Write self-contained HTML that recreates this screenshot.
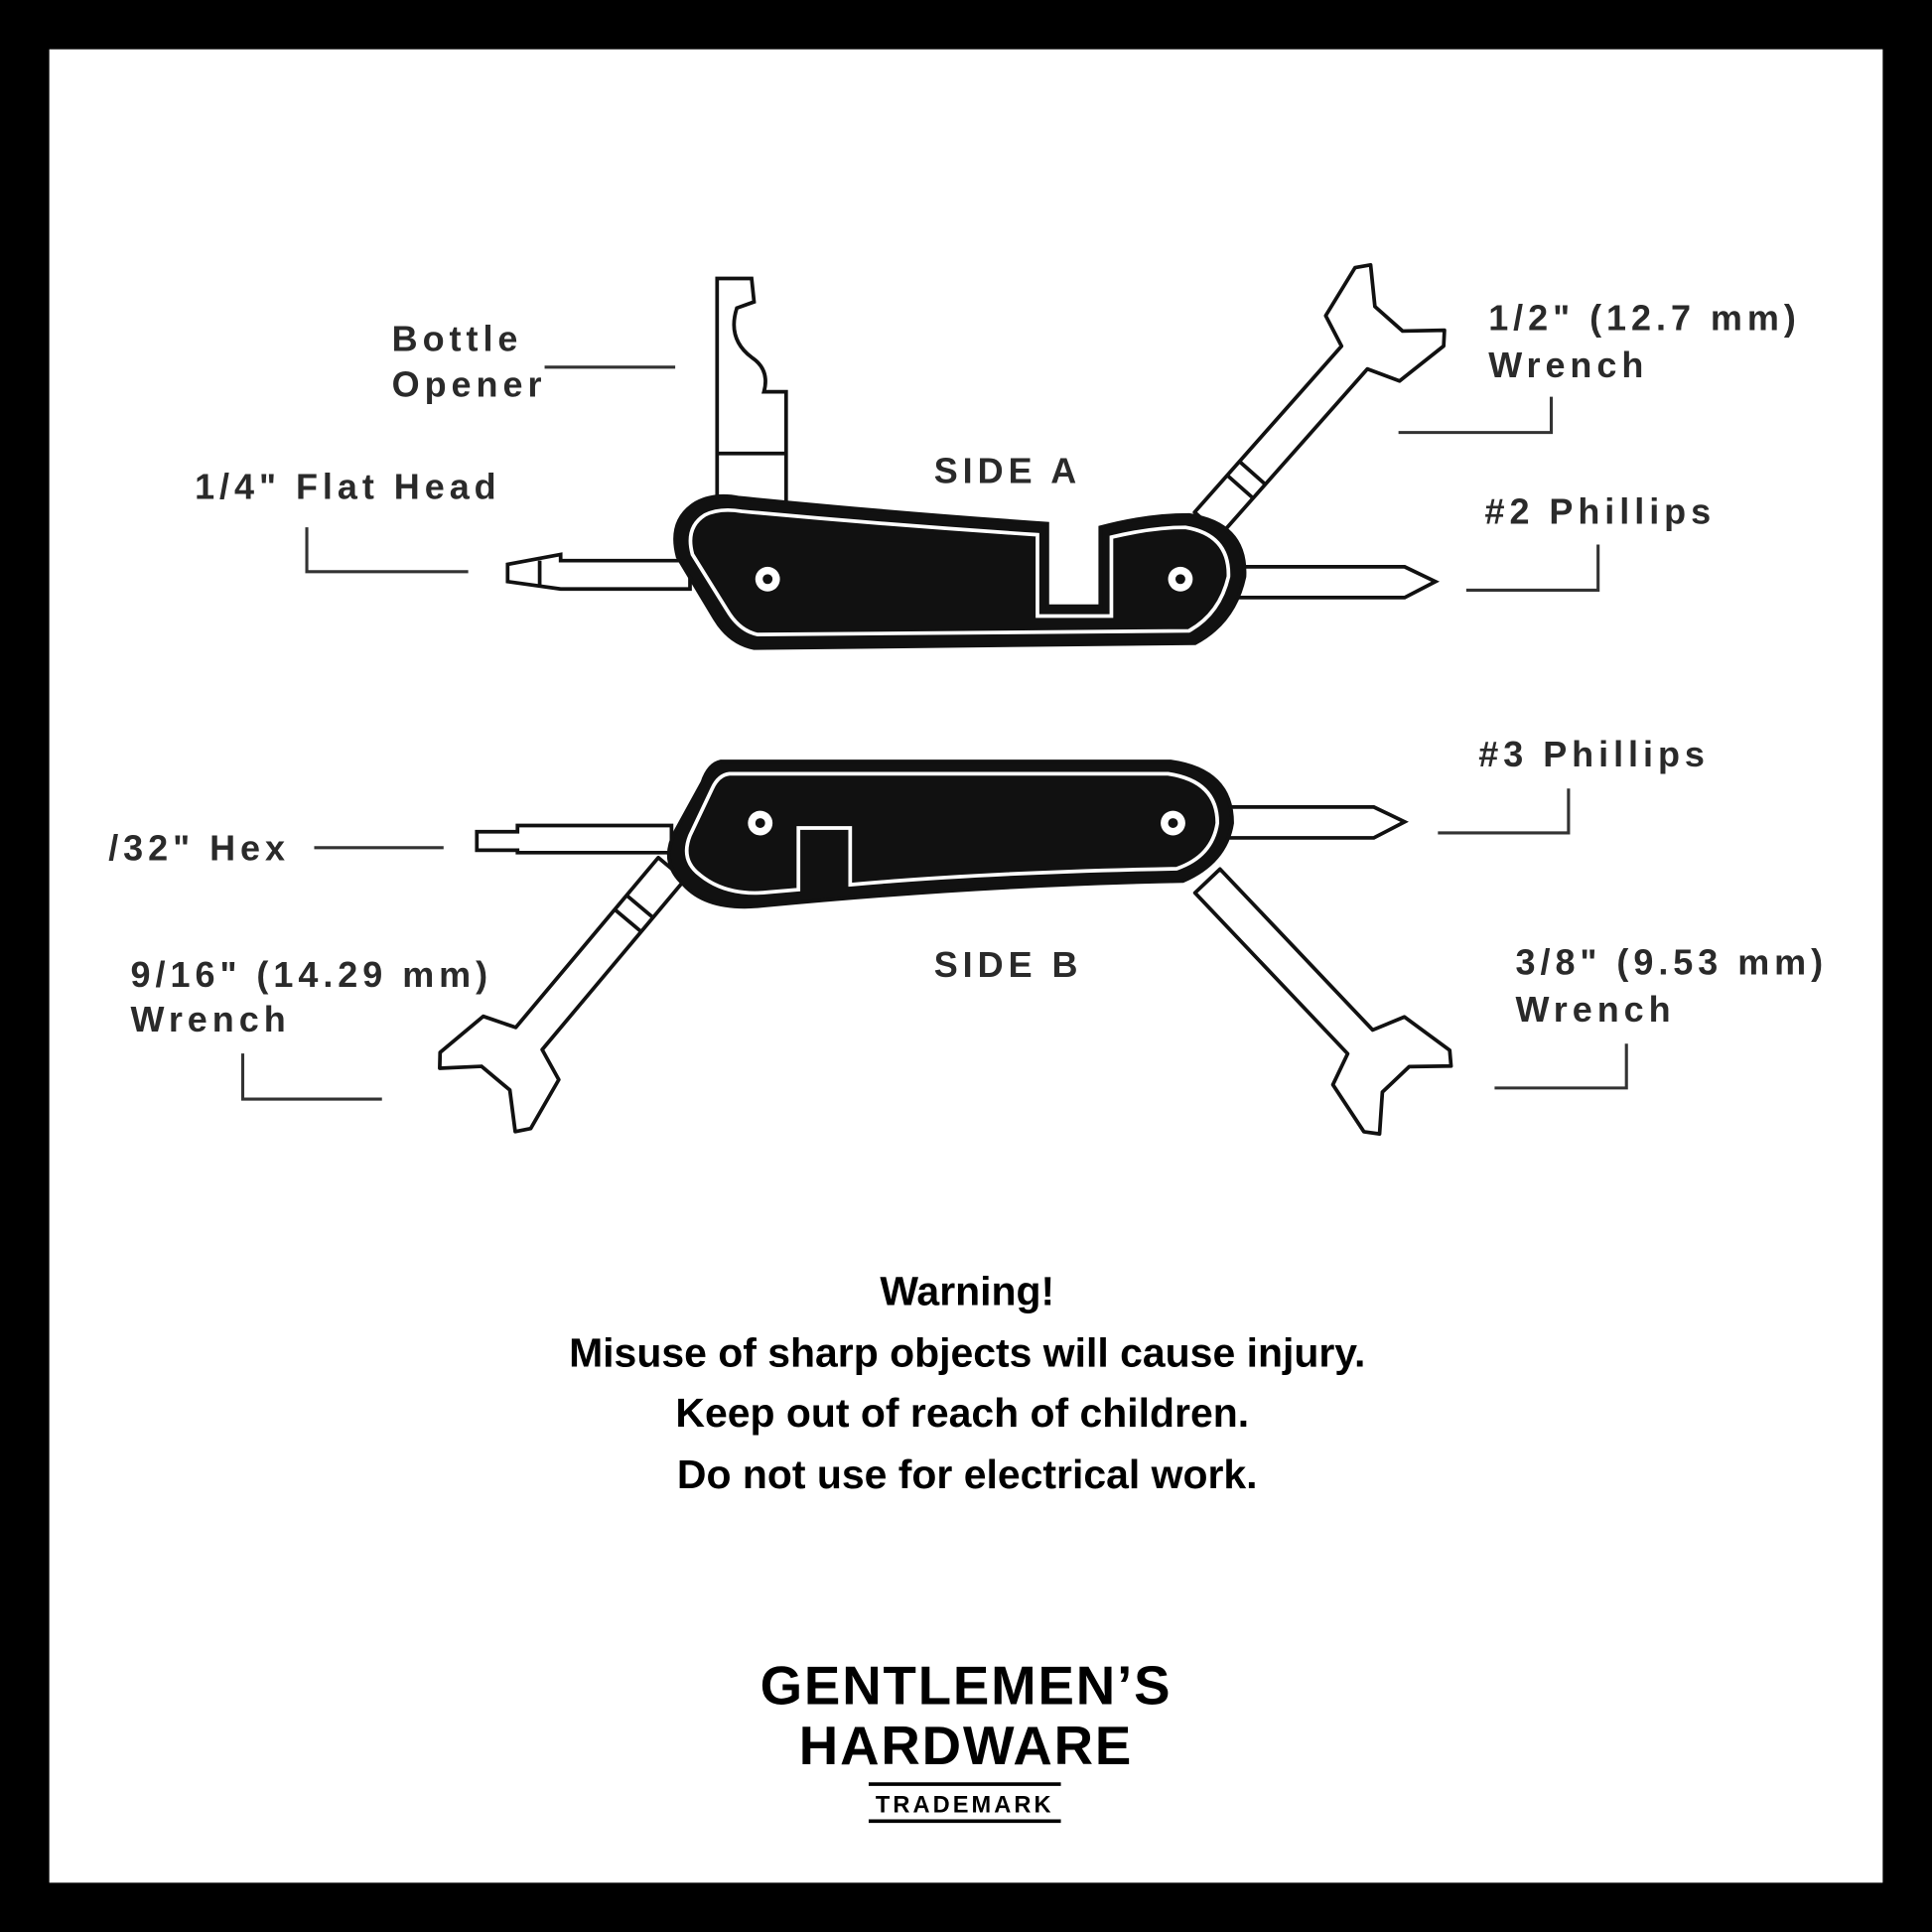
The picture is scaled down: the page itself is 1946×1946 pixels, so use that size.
<!DOCTYPE html>
<html><head><meta charset="utf-8"><style>
html,body{margin:0;padding:0;background:#000;}
svg{display:block;}
.lbl{font-family:"Liberation Sans",sans-serif;font-weight:bold;font-size:29px;letter-spacing:4px;fill:#2a2a2a;}
.warn{font-family:"Liberation Sans",sans-serif;font-weight:bold;font-size:33px;fill:#000;text-anchor:middle;}
.logo{font-family:"Liberation Sans",sans-serif;font-weight:bold;fill:#000;text-anchor:middle;}
</style></head><body>
<svg width="1946" height="1946" viewBox="0 0 1568 1568" xmlns="http://www.w3.org/2000/svg">
<rect x="0" y="0" width="1568" height="1568" fill="#000"/>
<rect x="40" y="40" width="1488" height="1488" fill="#fff"/>
<defs>
<path id="wr" d="M0,-14 L180,-14 L190,-40 L235,-48 L245,-40 L222,-15 L222,15 L245,40 L235,48 L190,40 L180,14 L0,14 Z" fill="#fff" stroke="#111" stroke-width="3" stroke-linejoin="round"/>
</defs>
<g stroke="#111" stroke-width="3" fill="#fff">
<path d="M582,410 L582,226 L610,226 L612,245 L598,250 Q590,275 610,290 Q625,300 620,318 L638,318 L638,410 Z"/>
<line x1="582" y1="368" x2="638" y2="368"/>
<path d="M560,455 L455,455 L455,450 L412,458 L412,472 L455,478 L560,478 Z"/>
<line x1="438" y1="455" x2="438" y2="476"/>
<path d="M1005,460 L1140,460 L1165,472 L1140,485 L1005,485 Z"/>
<g transform="translate(980,425) rotate(-48.5)"><use href="#wr"/><line x1="40" y1="-14" x2="40" y2="14"/><line x1="55" y1="-14" x2="55" y2="14"/></g>
<path d="M545,670 L420,670 L420,675 L387,675 L387,690 L420,690 L420,692 L545,692 Z"/>
<path d="M995,655 L1115,655 L1140,667 L1115,680 L995,680 Z"/>
<g transform="translate(545,705) rotate(130)"><use href="#wr"/><line x1="40" y1="-14" x2="40" y2="14"/><line x1="55" y1="-14" x2="55" y2="14"/></g>
<g transform="translate(980,715) rotate(46.5)"><use href="#wr"/></g>
</g>
<path d="M565,408 Q580,400 600,404 Q720,416 850,425 L850,492 L893,492 L893,428 Q930,418 965,418 Q1012,425 1010,468 Q1002,505 970,522 L612,526 Q592,522 580,502 L550,452 Q542,422 565,408 Z" fill="#111" stroke="#111" stroke-width="3"/>
<path d="M572,418 Q584,412 602,415 Q720,426 842,434 L842,500 L902,500 L902,436 Q935,428 962,428 Q998,434 997,468 Q990,498 965,512 L615,515 Q600,512 590,495 L562,450 Q556,428 572,418 Z" fill="none" stroke="#fff" stroke-width="3"/>
<circle cx="623" cy="470" r="10" fill="#fff"/><circle cx="623" cy="470" r="4" fill="#111"/>
<circle cx="958" cy="470" r="10" fill="#fff"/><circle cx="958" cy="470" r="4" fill="#111"/>
<path d="M585,618 L950,618 Q1000,625 1000,668 Q995,700 960,715 Q800,718 620,735 Q575,740 555,718 Q535,700 548,675 L570,635 Q575,620 585,618 Z" fill="#111" stroke="#111" stroke-width="3"/>
<path d="M592,628 L948,628 Q988,634 988,668 Q984,695 955,705 Q800,708 690,718 L690,672 L648,672 L648,722 L625,724 Q590,728 568,710 Q552,698 560,678 L578,640 Q583,629 592,628 Z" fill="none" stroke="#fff" stroke-width="3"/>
<circle cx="617" cy="668" r="10" fill="#fff"/><circle cx="617" cy="668" r="4" fill="#111"/>
<circle cx="952" cy="668" r="10" fill="#fff"/><circle cx="952" cy="668" r="4" fill="#111"/>
<g stroke="#333" stroke-width="2.5" fill="none">
<line x1="442" y1="298" x2="548" y2="298"/>
<polyline points="249,428 249,464 380,464"/>
<polyline points="1135,351 1259,351 1259,322"/>
<polyline points="1190,479 1297,479 1297,442"/>
<line x1="255" y1="688" x2="360" y2="688"/>
<polyline points="1167,676 1273,676 1273,640"/>
<polyline points="197,855 197,892 310,892"/>
<polyline points="1213,883 1320,883 1320,847"/>
</g>
<text class="lbl" x="318" y="285">Bottle</text>
<text class="lbl" x="318" y="322">Opener</text>
<text class="lbl" x="158" y="405">1/4" Flat Head</text>
<text class="lbl" x="758" y="392">SIDE A</text>
<text class="lbl" x="1208" y="268">1/2" (12.7 mm)</text>
<text class="lbl" x="1208" y="306">Wrench</text>
<text class="lbl" x="1205" y="425">#2 Phillips</text>
<text class="lbl" x="1200" y="622">#3 Phillips</text>
<text class="lbl" x="88" y="698">/32" Hex</text>
<text class="lbl" x="758" y="793">SIDE B</text>
<text class="lbl" x="106" y="801">9/16" (14.29 mm)</text>
<text class="lbl" x="106" y="837">Wrench</text>
<text class="lbl" x="1230" y="791">3/8" (9.53 mm)</text>
<text class="lbl" x="1230" y="829">Wrench</text>
<text class="warn" x="785" y="1059">Warning!</text>
<text class="warn" x="785" y="1109">Misuse of sharp objects will cause injury.</text>
<text class="warn" x="781" y="1158">Keep out of reach of children.</text>
<text class="warn" x="785" y="1208">Do not use for electrical work.</text>
<text class="logo" x="784" y="1383" font-size="44" letter-spacing="1.5">GENTLEMEN’S</text>
<text class="logo" x="784" y="1432" font-size="44" letter-spacing="1.5">HARDWARE</text>
<line x1="705" y1="1448" x2="861" y2="1448" stroke="#000" stroke-width="3"/>
<line x1="705" y1="1478" x2="861" y2="1478" stroke="#000" stroke-width="3"/>
<text class="logo" x="783" y="1471" font-size="19" letter-spacing="2.5">TRADEMARK</text>
</svg>
</body></html>
